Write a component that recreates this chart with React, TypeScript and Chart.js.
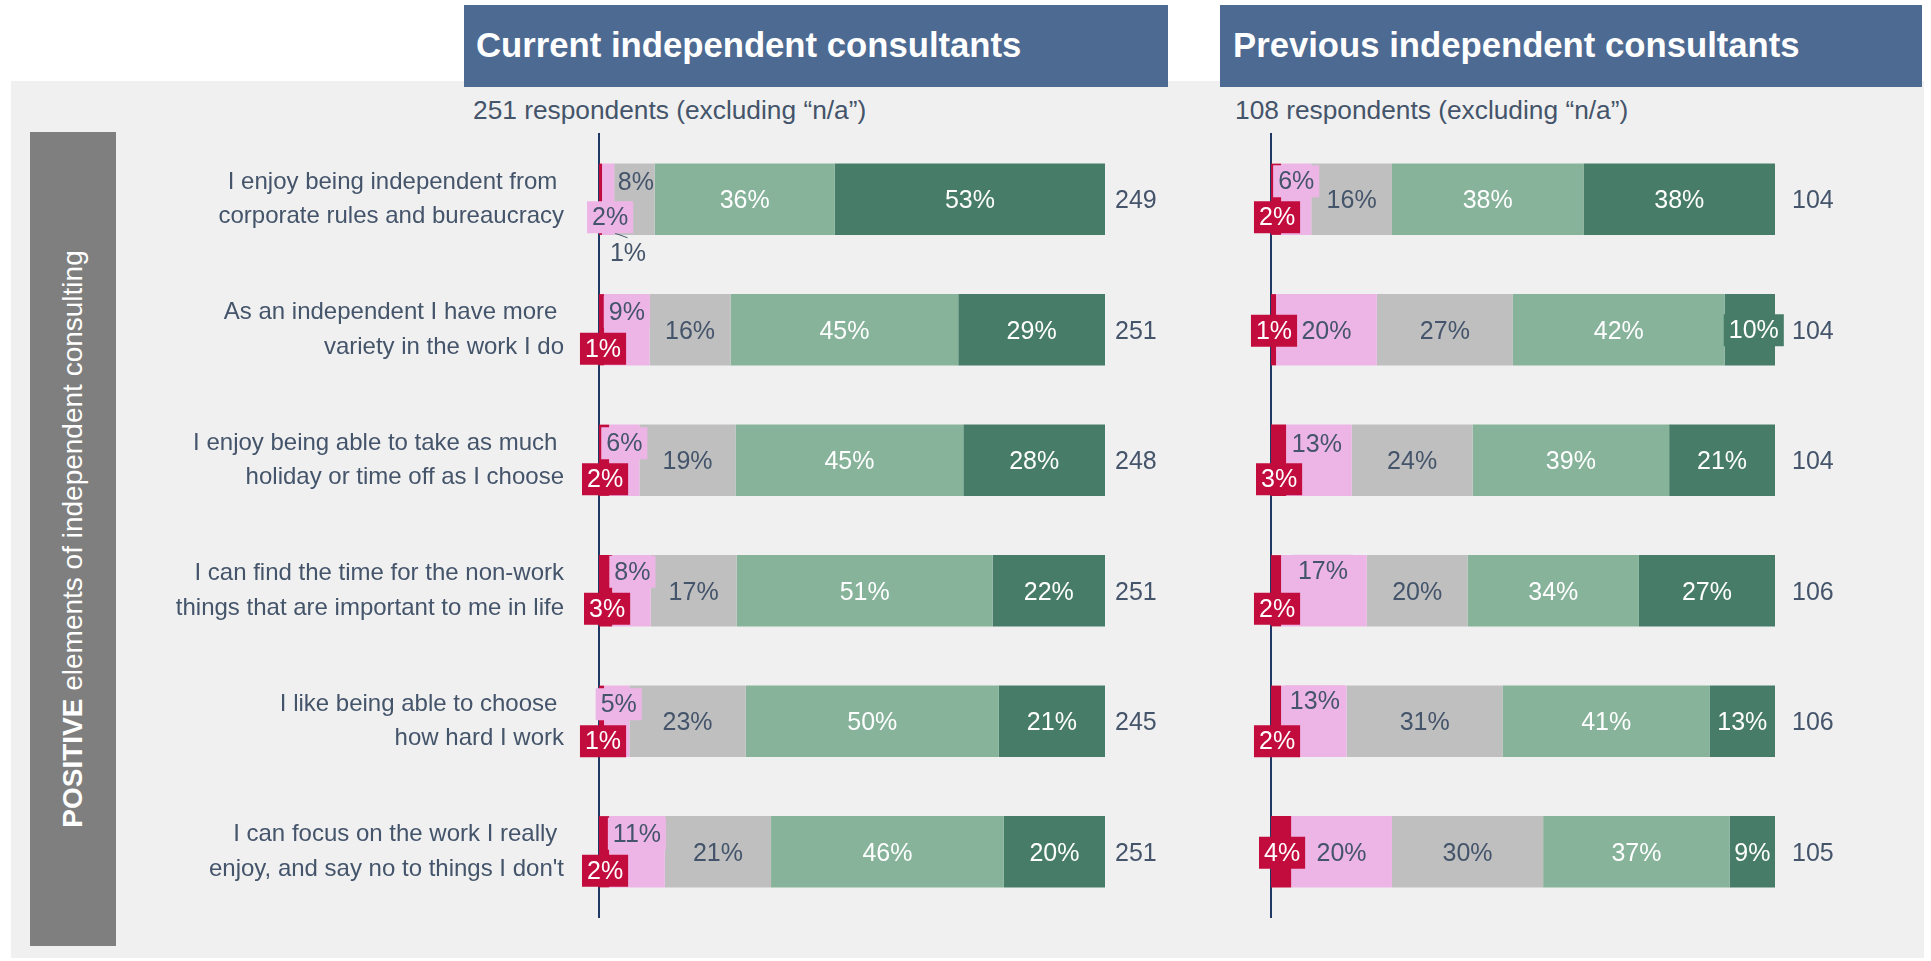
import React, { useEffect, useRef } from 'react';
import { Chart, registerables } from 'chart.js';

Chart.register(...registerables);

const FONT = "'Liberation Sans', Arial, Helvetica, sans-serif";
const TEXT = '#44546A';

// ---------------- data ----------------
const categories: string[][] = [
  ['I enjoy being independent from ', 'corporate rules and bureaucracy'],
  ['As an independent I have more ', 'variety in the work I do'],
  ['I enjoy being able to take as much ', 'holiday or time off as I choose'],
  ['I can find the time for the non-work', 'things that are important to me in life'],
  ['I like being able to choose ', 'how hard I work'],
  ['I can focus on the work I really ', "enjoy, and say no to things I don't"],
];

const seriesNames = ['Strongly disagree', 'Disagree', 'Neutral', 'Agree', 'Strongly agree'];

const curStronglyDisagree = [0.6, 1, 2, 2.6, 1, 2];
const curDisagree = [2.4, 9, 6, 7.6, 5, 11];
const curNeutral = [8, 16, 19, 17, 23, 21];
const curAgree = [35.6, 45, 45, 50.6, 50, 46];
const curStronglyAgree = [53.4, 29, 28, 22.2, 21, 20];
const curN = [249, 251, 248, 251, 245, 251];

const prevStronglyDisagree = [2, 1, 3, 2, 2, 4];
const prevDisagree = [6, 20, 13, 17, 13, 20];
const prevNeutral = [16, 27, 24, 20, 31, 30];
const prevAgree = [38, 42, 39, 34, 41, 37];
const prevStronglyAgree = [38, 10, 21, 27, 13, 9];
const prevN = [104, 104, 104, 106, 106, 105];

const panelTitles = ['Current independent consultants', 'Previous independent consultants'];
const respondentNotes = ['251 respondents (excluding \u201Cn/a\u201D)', '108 respondents (excluding \u201Cn/a\u201D)'];
const sideTitleBold = 'POSITIVE';
const sideTitleRest = ' elements of independent consulting';

// ---------------- styles ----------------
const seriesColors = ['#C20C3D', '#EDB5E6', '#BFBFBF', '#86B39A', '#477D68'];
const labelColors = ['#FFFFFF', TEXT, TEXT, '#FFFFFF', '#FFFFFF'];

type Adj = { dx?: number; dy?: number; box?: boolean; color?: string; leader?: boolean } | null;

// label placement tweaks per row, per series (index 0..4)
const curLabelPos: Adj[][] = [
  [{ dx: 27.5, dy: 53, box: false, color: TEXT, leader: true }, { dx: 2, dy: 17, box: true }, { dx: 1.5, dy: -18, box: false }, null, null],
  [{ dx: 1.5, dy: 18 }, { dx: 0, dy: -19, box: true }, null, null, null],
  [{ dx: 1, dy: 18 }, { dx: 0, dy: -18, box: true }, null, null, null],
  [{ dx: 1.5, dy: 17 }, { dx: 1, dy: -20, box: true }, null, null, null],
  [{ dx: 1.5, dy: 19 }, { dx: 2, dy: -18, box: true }, null, null, null],
  [{ dx: 1, dy: 18 }, { dx: 0, dy: -19, box: true }, null, null, null],
];
const prevLabelPos: Adj[][] = [
  [{ dx: 1, dy: 17 }, { dx: 0, dy: -19, box: true }, null, null, null],
  [{ dx: 0.5, dy: 0 }, null, null, null, { dx: 4, dy: -0.5, box: true }],
  [{ dx: 0.5, dy: 18 }, { dx: -2, dy: -17, box: true }, null, null, null],
  [{ dx: 1, dy: 17 }, { dx: -1, dy: -21, box: true }, null, null, null],
  [{ dx: 1, dy: 19 }, { dx: 1, dy: -21, box: true }, null, null, null],
  [{ dx: 1, dy: 0 }, null, null, null, null],
];

function makeLabelPlugin(pos: Adj[][], nVals: number[], nOffset: number) {
  return {
    id: 'segLabels',
    afterDatasetsDraw(chart: any) {
      const ctx = chart.ctx as CanvasRenderingContext2D;
      ctx.save();
      ctx.font = `25px ${FONT}`;
      ctx.textBaseline = 'middle';
      chart.data.datasets.forEach((ds: any, di: number) => {
        const meta = chart.getDatasetMeta(di);
        meta.data.forEach((el: any, j: number) => {
          const v = ds.data[j] as number;
          const text = `${Math.round(v)}%`;
          const adj: any = (pos[j] && pos[j][di]) || {};
          const segX = (el.x + el.base) / 2;
          const cx = segX + (adj.dx || 0);
          const cy = el.y + (adj.dy || 0);
          const boxed = adj.box !== undefined ? adj.box : di === 0;
          const w = ctx.measureText(text).width;
          if (boxed) {
            ctx.fillStyle = seriesColors[di];
            ctx.fillRect(cx - w / 2 - 5, cy - 15, w + 10, 32);
          }
          if (adj.leader) {
            ctx.strokeStyle = TEXT;
            ctx.lineWidth = 1;
            ctx.beginPath();
            ctx.moveTo(segX + 14.5, el.y + 34);
            ctx.lineTo(segX + 27, el.y + 38.5);
            ctx.stroke();
          }
          ctx.textAlign = 'center';
          ctx.fillStyle = adj.color || labelColors[di];
          ctx.fillText(text, cx, cy + 2);
        });
      });
      const meta0 = chart.getDatasetMeta(0);
      ctx.textAlign = 'left';
      ctx.fillStyle = TEXT;
      meta0.data.forEach((el: any, j: number) => {
        ctx.fillText(String(nVals[j]), chart.chartArea.right + nOffset, el.y + 2);
      });
      ctx.restore();
    },
  };
}

type PanelProps = {
  left: number;
  width: number;
  axisWidth: number;
  rightPad: number;
  showCats: boolean;
  series: number[][];
  pos: Adj[][];
  nVals: number[];
  nOffset: number;
};

function Panel({ left, width, axisWidth, rightPad, showCats, series, pos, nVals, nOffset }: PanelProps) {
  const ref = useRef<HTMLCanvasElement>(null);
  useEffect(() => {
    const chart = new Chart(ref.current as HTMLCanvasElement, {
      type: 'bar',
      data: {
        labels: categories as any,
        datasets: series.map((d, i) => ({
          label: seriesNames[i],
          data: d,
          backgroundColor: seriesColors[i],
          borderWidth: 0,
          barPercentage: 0.546,
          categoryPercentage: 1,
        })),
      },
      options: {
        indexAxis: 'y',
        responsive: false,
        animation: false,
        devicePixelRatio: 1,
        layout: { padding: { top: 134, bottom: 44, left: 0, right: rightPad } },
        plugins: { legend: { display: false }, tooltip: { enabled: false } },
        scales: {
          x: { stacked: true, min: 0, max: 100, display: false },
          y: {
            stacked: true,
            grid: { display: false, drawTicks: false },
            border: { display: true, color: '#1F3864', width: 2 },
            ticks: {
              display: showCats,
              padding: 35,
              color: TEXT,
              autoSkip: false,
              font: { size: 24, family: FONT, lineHeight: 1.44 },
            },
            afterFit: (s: any) => {
              s.width = axisWidth;
              s.paddingTop = 0;
              s.paddingBottom = 0;
            },
          },
        },
      } as any,
      plugins: [makeLabelPlugin(pos, nVals, nOffset)],
    });
    return () => chart.destroy();
  }, []);
  return (
    <canvas
      ref={ref}
      width={width}
      height={961}
      style={{ position: 'absolute', left, top: 0, width, height: 961 }}
    />
  );
}

export default function App() {
  return (
    <div
      style={{
        position: 'fixed',
        left: 0,
        top: 0,
        width: 1931,
        height: 961,
        background: '#FFFFFF',
        overflow: 'hidden',
        fontFamily: FONT,
      }}
    >
      <div style={{ position: 'absolute', left: 11, top: 81, width: 1913, height: 877, background: '#F0F0F0' }} />
      <div style={{ position: 'absolute', left: 464, top: 5, width: 704, height: 82, background: '#4D6A92' }}>
        <div style={{ position: 'absolute', left: 12, top: 20, lineHeight: '40px', fontSize: 34.7, fontWeight: 'bold', color: '#fff', whiteSpace: 'nowrap' }}>
          {panelTitles[0]}
        </div>
      </div>
      <div style={{ position: 'absolute', left: 1220, top: 5, width: 702, height: 82, background: '#4D6A92' }}>
        <div style={{ position: 'absolute', left: 13, top: 20, lineHeight: '40px', fontSize: 34.7, fontWeight: 'bold', color: '#fff', whiteSpace: 'nowrap' }}>
          {panelTitles[1]}
        </div>
      </div>
      <div style={{ position: 'absolute', left: 473, top: 95, lineHeight: '30px', fontSize: 26.3, color: TEXT, whiteSpace: 'nowrap' }}>
        {respondentNotes[0]}
      </div>
      <div style={{ position: 'absolute', left: 1235, top: 95, lineHeight: '30px', fontSize: 26.3, color: TEXT, whiteSpace: 'nowrap' }}>
        {respondentNotes[1]}
      </div>
      <div
        style={{
          position: 'absolute',
          left: 30,
          top: 132,
          width: 86,
          height: 814,
          background: '#7F7F7F',
          display: 'flex',
          alignItems: 'center',
          justifyContent: 'center',
        }}
      >
        <div style={{ transform: 'rotate(-90deg)', whiteSpace: 'nowrap', color: '#fff', fontSize: 28, lineHeight: '32px' }}>
          <b>{sideTitleBold}</b>
          {sideTitleRest}
        </div>
      </div>
      <Panel
        left={0}
        width={1200}
        axisWidth={599}
        rightPad={95}
        showCats={true}
        series={[curStronglyDisagree, curDisagree, curNeutral, curAgree, curStronglyAgree]}
        pos={curLabelPos}
        nVals={curN}
        nOffset={10}
      />
      <Panel
        left={1200}
        width={700}
        axisWidth={71}
        rightPad={125}
        showCats={false}
        series={[prevStronglyDisagree, prevDisagree, prevNeutral, prevAgree, prevStronglyAgree]}
        pos={prevLabelPos}
        nVals={prevN}
        nOffset={17}
      />
    </div>
  );
}
